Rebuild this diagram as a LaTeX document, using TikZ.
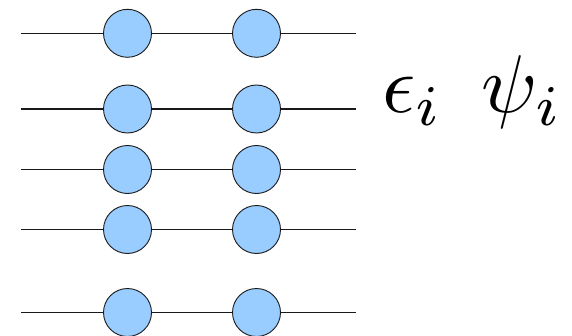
\documentclass[tikz,border=0pt]{standalone}
\usepackage{tikz}
\usetikzlibrary{positioning}
\definecolor{bead}{HTML}{99CCFF}
\definecolor{ink} {HTML}{1A1A1A}

\begin{document}
\begin{tikzpicture}[x=1pt,y=1pt,
    site/.style={circle,draw=ink,line width=0.9pt,fill=bead,
                 minimum size=48pt,inner sep=0pt},
    wire/.style={draw=ink,line width=1.1pt},
    label/.style={scale=8.2,inner sep=0pt,anchor=base west}]
  \useasboundingbox (0,0) rectangle (572,335);
  \foreach \r/\y in {1/301.7,2/226,3/165.5,4/105.5,5/22.5}{
    \coordinate (in\r) at (21,\y);
    \coordinate (out\r) at (356,\y);
    \node[site] (a\r) at (127.5,\y) {};
    \node[site] (b\r) at (256.5,\y) {};
    \draw[wire] (in\r) -- (a\r) (a\r) -- (b\r) (b\r) -- (out\r);
  }
  \node[label] (eps) at (381,222) {$\epsilon_i$};
  \node[label] (psi) at (480,222) {$\psi_i$};
\end{tikzpicture}
\end{document}
